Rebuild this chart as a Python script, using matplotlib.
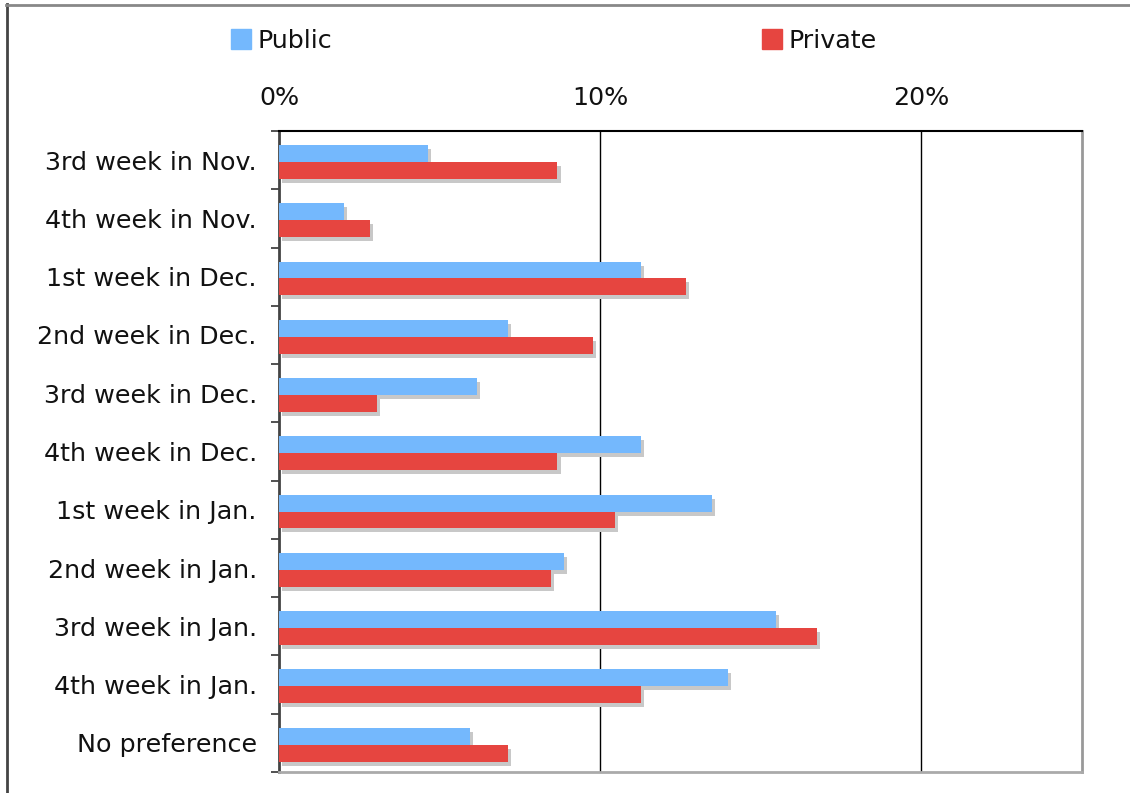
import matplotlib
matplotlib.use("Agg")
import matplotlib.pyplot as plt
import matplotlib.patches as mpatches
import matplotlib.patheffects as pe
from matplotlib.lines import Line2D
import numpy as np

categories = ["3rd week in Nov.", "4th week in Nov.", "1st week in Dec.", "2nd week in Dec.",
              "3rd week in Dec.", "4th week in Dec.", "1st week in Jan.", "2nd week in Jan.",
              "3rd week in Jan.", "4th week in Jan.", "No preference"]
public = [4.65, 2.03, 11.26, 7.14, 6.15, 11.26, 13.48, 8.86, 15.48, 13.98, 5.96]
private = [8.67, 2.84, 12.67, 9.77, 3.06, 8.67, 10.45, 8.46, 16.75, 11.26, 7.14]
xticks = [0, 10, 20]

blue = "#74b8fd"
red = "#e64540"
shadow = [pe.SimplePatchShadow(offset=(2.2, -2.9), shadow_rgbFace="#c8c8c8", alpha=1), pe.Normal()]
fs = 18.3

W, H = 1130, 793
fig = plt.figure(figsize=(W / 100, H / 100), dpi=100)
ax = fig.add_axes([279 / W, 1 - 772 / H, (1082 - 279) / W, (772 - 131) / H])

y = np.arange(len(categories))
h = 0.29
ax.barh(y - h / 2 + 0.03, public, height=h, color=blue, path_effects=shadow, zorder=3)
ax.barh(y + h / 2 + 0.03, private, height=h, color=red, path_effects=shadow, zorder=3)

ax.set_xlim(0, 25)
ax.set_ylim(len(categories) - 0.5, -0.5)
ax.xaxis.tick_top()
ax.set_xticks(xticks)
ax.set_xticklabels([f"{t}%" for t in xticks])
ax.tick_params(axis="x", length=0, pad=15, labelsize=fs, labelcolor="#111111")
ax.set_yticks(y)
ax.set_yticklabels(categories)
ax.tick_params(axis="y", which="major", length=0, pad=16, labelsize=fs, labelcolor="#111111")
ax.set_yticks(np.arange(len(categories) + 1) - 0.5, minor=True)
ax.tick_params(axis="y", which="minor", length=5.5, width=1.2, color="#333333")
for t in xticks[1:]:
    ax.axvline(t, color="black", lw=1, zorder=1)

ax.spines["top"].set_linewidth(1.5)
ax.spines["top"].set_color("black")
ax.spines["left"].set_linewidth(2)
ax.spines["left"].set_color("#444444")
ax.spines["right"].set_linewidth(2)
ax.spines["right"].set_color("#999999")
ax.spines["bottom"].set_linewidth(2)
ax.spines["bottom"].set_color("#aaaaaa")

# legend entries
fig.legend(handles=[mpatches.Patch(color=blue, label="Public")], loc="center left",
           bbox_to_anchor=(208 / W, 1 - 41 / H), frameon=False, fontsize=fs,
           handlelength=0.8, handleheight=0.8, handletextpad=0.25, labelcolor="#111111")
fig.legend(handles=[mpatches.Patch(color=red, label="Private")], loc="center left",
           bbox_to_anchor=(739 / W, 1 - 41 / H), frameon=False, fontsize=fs,
           handlelength=0.8, handleheight=0.8, handletextpad=0.25, labelcolor="#111111")

# figure border (top and left only)
fig.lines.append(Line2D([6.5 / W, 6.5 / W], [0, 1 - 4 / H], transform=fig.transFigure,
                        color="#444444", lw=2))
fig.lines.append(Line2D([6 / W, 1], [1 - 4.5 / H, 1 - 4.5 / H], transform=fig.transFigure,
                        color="#888888", lw=2))

fig.savefig("out.png", dpi=100)
